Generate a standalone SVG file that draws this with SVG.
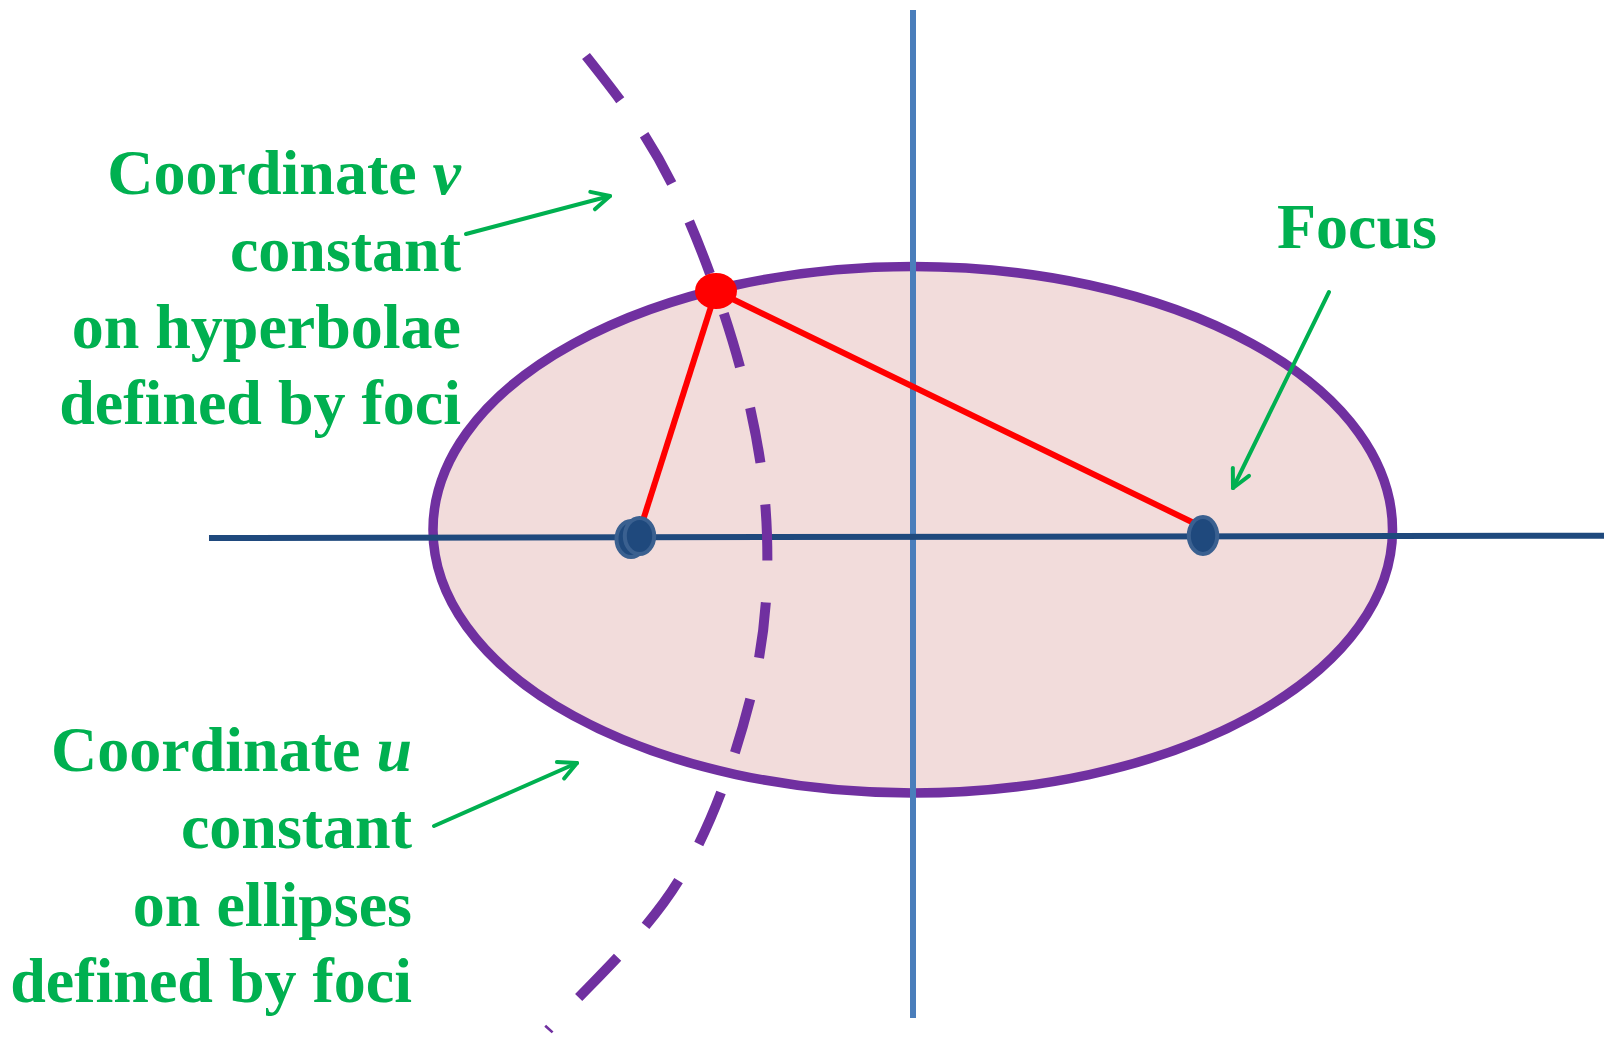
<svg xmlns="http://www.w3.org/2000/svg" width="1604" height="1038" viewBox="0 0 1604 1038">
<style>
.lbl{font-family:"Liberation Serif","Times New Roman",serif;font-weight:bold;font-size:64px;fill:#00B050}
.it{font-style:italic}
.arrow{stroke:#00B050;stroke-width:4;fill:none;stroke-linecap:round}
.red{stroke:#FF0000;stroke-width:6;fill:none}
.focus{fill:#1F497D;stroke:#3A6090;stroke-width:4}
</style>
<defs>
<marker id="open" markerUnits="userSpaceOnUse" markerWidth="30" markerHeight="30" viewBox="-25 -15 30 30" refX="0" refY="0" orient="auto">
<path d="M-18,-9 L0,0 L-18,9" fill="none" stroke="#00B050" stroke-width="4" stroke-linecap="round" stroke-linejoin="round"/>
</marker>
</defs>
<rect width="1604" height="1038" fill="#FFFFFF"/>
<g id="ellipse">
<ellipse cx="912.75" cy="529.75" rx="479.75" ry="263.25" fill="#F2DCDB" stroke="#7030A0" stroke-width="9.5"/>
</g>
<g id="axes">
<line x1="913" y1="10" x2="913" y2="1018" stroke="#4A7EBB" stroke-width="6"/>
<line x1="209" y1="538" x2="1604" y2="535.7" stroke="#1F497D" stroke-width="6"/>
</g>
<g id="hyperbola">
<path d="M586,56 C617.8,96 646.3,132.2 672,184 C697.7,235.8 724.2,308.5 740,367 C755.8,425.5 765.3,479.5 767,535 C768.7,590.5 764.7,642.5 750,700 C735.3,757.5 712.7,825 679,880 C645.3,935 592.4,981.1 548,1030" fill="none" stroke="#7030A0" stroke-width="10" stroke-dasharray="56 42"/>
</g>
<g id="connectors">
<line class="red" x1="716" y1="291" x2="638" y2="536"/>
<line class="red" x1="716" y1="291" x2="1197" y2="524.5"/>
<line class="arrow" x1="466" y1="234" x2="610" y2="196" marker-end="url(#open)"/>
<line class="arrow" x1="434" y1="826" x2="577" y2="763" marker-end="url(#open)"/>
<line class="arrow" x1="1329" y1="292" x2="1233" y2="488" marker-end="url(#open)"/>
</g>
<g id="focus-left">
<ellipse class="focus" cx="631" cy="539" rx="14.5" ry="18"/>
<ellipse class="focus" cx="639.5" cy="536" rx="14.7" ry="18"/>
</g>
<g id="focus-right">
<ellipse class="focus" cx="1203" cy="535.5" rx="14.2" ry="18.5"/>
</g>
<g id="point">
<ellipse cx="716" cy="291" rx="21" ry="18" fill="#FF0000"/>
</g>
<g id="label-v">
<text class="lbl" text-anchor="end"><tspan x="461" y="194">Coordinate <tspan class="it">v</tspan></tspan><tspan x="461" y="271">constant</tspan><tspan x="461" y="348">on hyperbolae</tspan><tspan x="461" y="424">defined by foci</tspan></text>
</g>
<g id="label-u">
<text class="lbl" text-anchor="end"><tspan x="412" y="771">Coordinate <tspan class="it">u</tspan></tspan><tspan x="412" y="848">constant</tspan><tspan x="412" y="926">on ellipses</tspan><tspan x="412" y="1002">defined by foci</tspan></text>
</g>
<g id="label-focus">
<text class="lbl" x="1277" y="248">Focus</text>
</g>
</svg>
